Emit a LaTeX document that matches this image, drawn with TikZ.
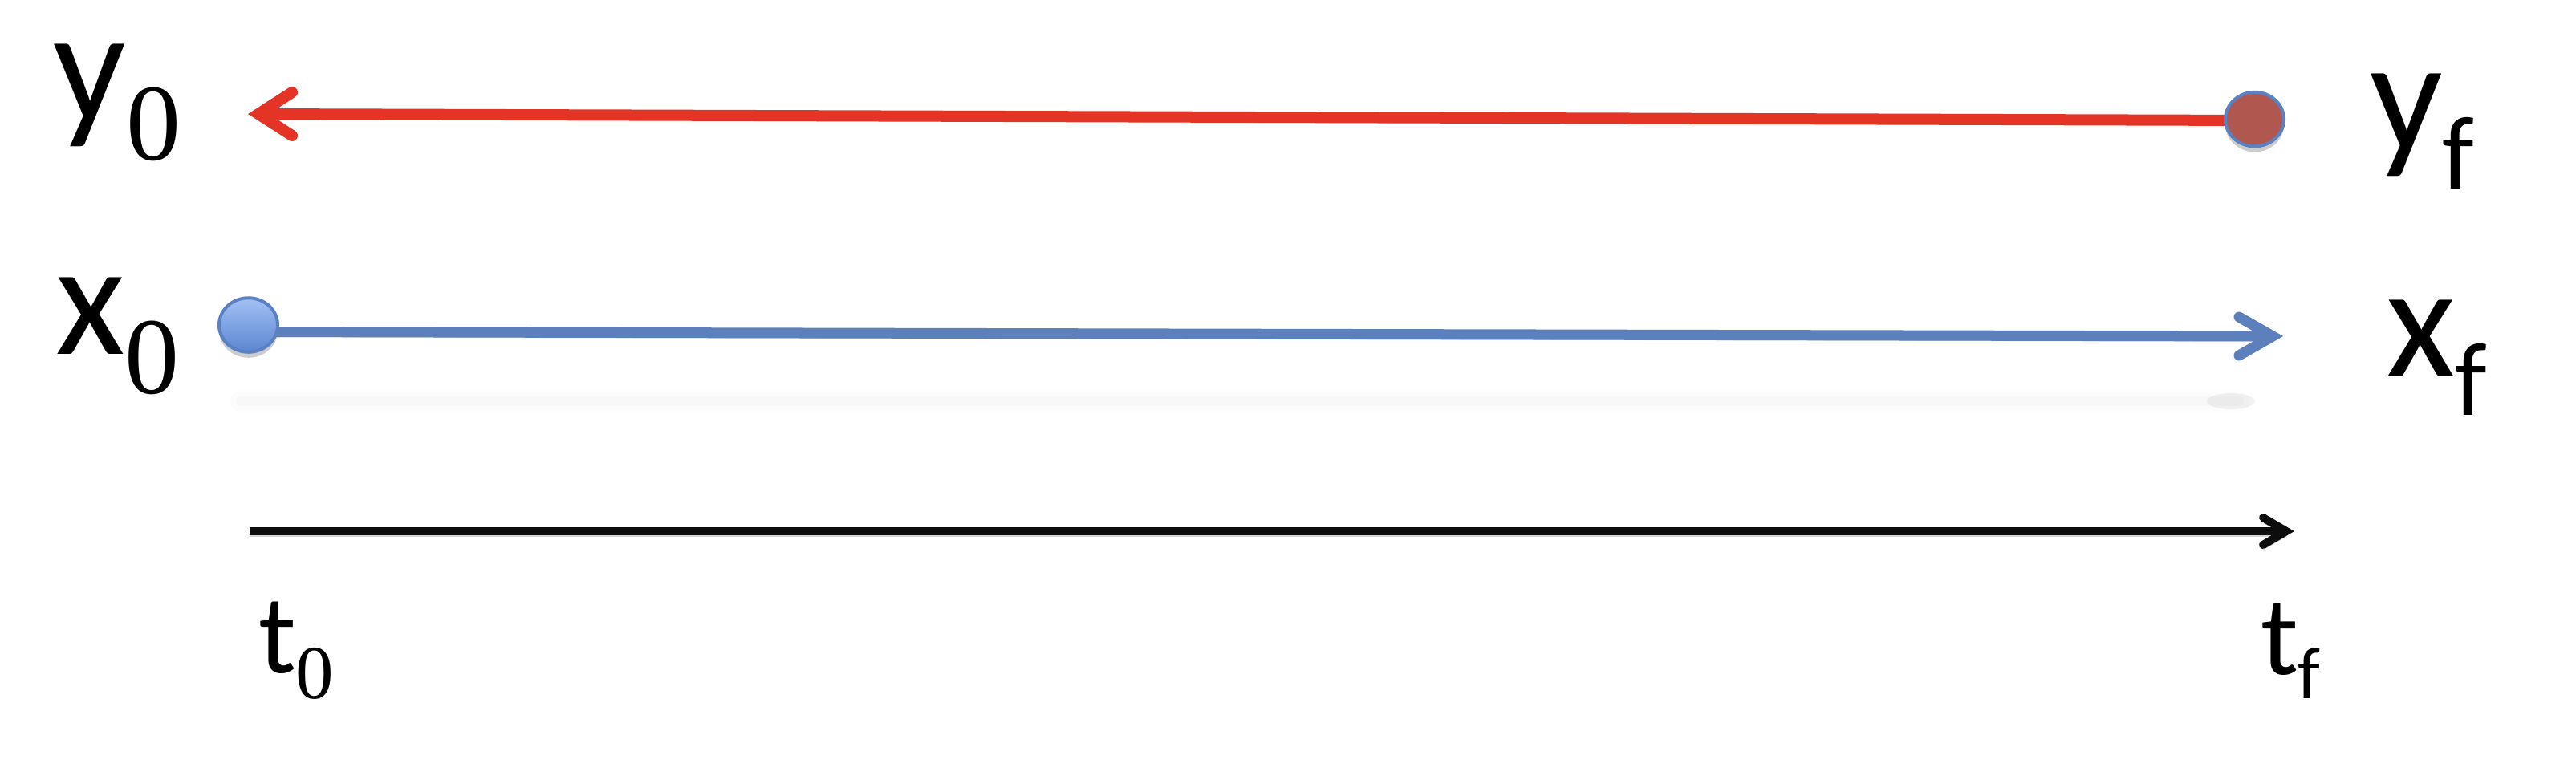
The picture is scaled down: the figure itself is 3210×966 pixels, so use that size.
\documentclass[tikz,border=0pt]{standalone}
\usepackage{fontspec}
\usetikzlibrary{shapes.geometric}
\newfontfamily\calib{Carlito}
\newfontfamily\tms{Liberation Serif}
\definecolor{redl}{RGB}{228,52,37}
\definecolor{bluel}{RGB}{91,128,188}
\definecolor{blackl}{RGB}{13,13,13}
\definecolor{redfill}{RGB}{176,87,80}
\definecolor{ringc}{RGB}{90,130,194}
\definecolor{bluetop}{RGB}{162,192,245}
\definecolor{bluebot}{RGB}{92,134,208}
\newcommand\biglbl[3]{{\calib\fontsize{56.9}{60}\selectfont #1}\raisebox{-#3}{#2}}
\newcommand\smalllbl[3]{{\calib\fontsize{39.8}{45}\selectfont #1}\raisebox{-#3}{#2}}
\newcommand\bigzero{\tms\fontsize{38.7}{40}\selectfont 0}
\newcommand\bigf{\calib\fontsize{37}{40}\selectfont f}
\newcommand\smallzero{\tms\fontsize{27}{30}\selectfont 0}
\newcommand\smallf{\calib\fontsize{26}{30}\selectfont f}
\begin{document}
\begin{tikzpicture}[x=0.01cm,y=-0.01cm,
  lbl/.style={anchor=base west,inner sep=0pt,outer sep=0pt},
  shade line/.style={preaction={draw=black,opacity=0.16,transform canvas={yshift=-0.06cm}}},
  redline/.style={draw=redl,line width=0.14cm,shade line},
  blueline/.style={draw=bluel,line width=0.13cm,shade line},
  blackline/.style={draw=blackl,line width=0.10cm,shade line},
  barb/.style={line cap=round,line join=miter},
  dot/.style={ellipse,minimum width=0.73cm,minimum height=0.675cm,inner sep=0pt,line width=0.04cm,draw=ringc,
    preaction={fill=black,opacity=0.2,transform canvas={yshift=-0.07cm}}}
]
\useasboundingbox (0,0) rectangle (3210,966);

% faint shadow band
\coordinate (sbA) at (300,500);
\coordinate (sbB) at (2790,500);
\draw[line width=0.26cm,black,opacity=0.01,line cap=round] (sbA) -- (sbB);
\draw[line width=0.12cm,black,opacity=0.014,line cap=round] (sbA) -- (sbB);
\fill[black,opacity=0.05] (2780,500) ellipse [x radius=30, y radius=10];

% labels
\node[lbl] (y0) at (67,150) {\biglbl{y}{\bigzero}{14pt}};
\node[lbl] (x0) at (69,441) {\biglbl{x}{\bigzero}{14pt}};
\node[lbl] (yf) at (2953,187) {\biglbl{y}{\bigf}{13.7pt}};
\node[lbl] (xf) at (2973,469) {\biglbl{x}{\bigf}{13.7pt}};
\node[lbl] (t0) at (322,838) {\smalllbl{t}{\smallzero}{9.1pt}};
\node[lbl] (tf) at (2817,840) {\smalllbl{t}{\smallf}{8.8pt}};

% red arrow (y)
\coordinate (ytip) at (322,142);
\coordinate (ystart) at (2809,150);
\draw[redline] (ystart) -- (ytip);
\draw[redline,barb] ([shift={(42,-27)}]ytip) -- (ytip) -- ([shift={(42,27)}]ytip);
\node[dot,fill=redfill] (ydot) at (2809.5,148.6) {};

% blue arrow (x)
\coordinate (xstart) at (320,413.5);
\coordinate (xtip) at (2832,419);
\draw[blueline] (xstart) -- (xtip);
\draw[blueline,barb] ([shift={(-42,-24)}]xtip) -- (xtip) -- ([shift={(-42,24)}]xtip);
\node[dot,top color=bluetop,bottom color=bluebot] (xdot) at (309.5,405) {};

% time axis
\coordinate (tstart) at (311,662);
\coordinate (ttip) at (2849,662);
\draw[blackline] (tstart) -- (ttip);
\draw[blackline,barb] ([shift={(-29,-17)}]ttip) -- (ttip) -- ([shift={(-29,17)}]ttip);
\end{tikzpicture}
\end{document}
